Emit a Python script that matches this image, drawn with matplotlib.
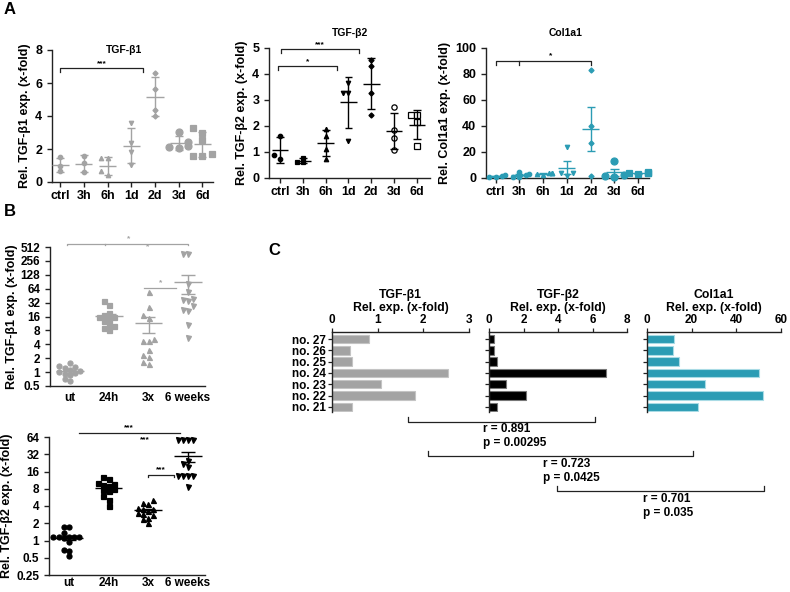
import numpy as np
import matplotlib.pyplot as plt
from matplotlib.lines import Line2D
from matplotlib.ticker import FixedLocator, FixedFormatter, NullLocator

plt.rcParams['font.family'] = ['Liberation Sans', 'DejaVu Sans']
plt.rcParams['font.weight'] = 'bold'
plt.rcParams['axes.labelweight'] = 'bold'
plt.rcParams['axes.linewidth'] = 1.0

GRAY = '#a3a3a3'
TEAL = '#2b9cb4'
AXC = '#222222'

# ---- panel A : time course ----
a_groups = ['ctrl', '3h', '6h', '1d', '2d', '3d', '6d']
tgfb1_a = [[1.5, 0.98, 0.66], [1.6, 1.13, 0.62], [1.45, 1.45, 0.65, 0.4],
           [3.6, 2.36, 1.8, 1.05], [6.6, 5.64, 4.39, 4.02],
           [3.05, 2.4, 2.2, 2.1, 2.05], [3.25, 3.0, 2.55, 1.7, 1.6, 1.55]]
tgfb2_a = [[1.63, 0.87, 0.73], [0.78, 0.6, 0.62], [1.88, 1.6, 1.12, 0.75],
           [3.65, 3.27, 3.27, 1.44], [4.53, 4.29, 3.27, 2.44],
           [2.73, 1.83, 1.54, 1.09], [2.41, 2.41, 2.15, 1.25]]
col1a1_a = [[1.5, 1.0, 0.6, 2.0], [5.0, 3.0, 2.0, 1.0, 0.5], [3.5, 2.5, 3.0, 4.0, 3.8],
            [23.6, 3.8, 3.5, 1.2], [83.3, 39.7, 26.9, 1.3], [12.8, 2.6, 1.5, 0.5],
            [5.0, 4.0, 3.5, 3.5, 3.0]]
a_markers = ['o', 'o', '^', 'v', 'D', 'o', 's']
a_sizes = [3.2, 3.2, 3.2, 3.2, 2.6, 5.0, 5.0]
a2_markers = ['o', 's', '^', 'v', 'D', 'o', 's']
a2_fill = [True, True, True, True, True, False, False]

# ---- panel B : treatments ----
b_groups = ['ut', '24h', '3x', '6 weeks']
tgfb1_b = [[1.6, 1.35, 1.3, 1.2, 1.1, 1.05, 1.0, 0.95, 0.9, 0.85, 0.7, 0.65],
           [34, 28, 19, 17.5, 16, 15.5, 14, 13, 11, 10, 9, 8],
           [54, 25.6, 17, 15, 5.1, 4.8, 4.8, 3.0, 2.3, 2.1, 1.66, 1.47],
           [367, 355, 82, 54, 37.5, 37, 34, 26.5, 21.7, 21, 10.3, 5.6]]
tgfb2_b = [[1.7, 1.7, 1.35, 1.15, 1.15, 1.15, 1.15, 1.15, 1.1, 0.95, 0.68, 0.66, 0.53],
           [13, 11.8, 10, 9.8, 9.2, 8.8, 8, 7.5, 7.2, 6, 5.1, 4],
           [5.0, 4.6, 4.3, 3.7, 3.6, 3.5, 3.3, 3.0, 2.9, 2.8, 2.5, 2.4, 2.0],
           [56, 56, 56, 56, 24, 22, 19, 13.5, 13.5, 13.5, 13.5, 8.7]]
b_markers = ['o', 's', '^', 'v']

# ---- panel C : individual samples ----
samples = ['no. 21', 'no. 22', 'no. 23', 'no. 24', 'no. 25', 'no. 26', 'no. 27']
tgfb1_c = [0.44, 1.82, 1.07, 2.53, 0.44, 0.385, 0.80]
tgfb2_c = [0.47, 2.13, 1.0, 6.78, 0.45, 0.31, 0.27]
col1a1_c = [22.7, 52, 26, 50.3, 14.5, 11.6, 12]
corr_r = ['0.891', '0.723', '0.701']
corr_p = ['0.00295', '0.0425', '0.035']

fig = plt.figure(figsize=(7.9, 5.92), dpi=100)
W, H = 790.0, 592.0


def fx(x):
    return x / W


def fy(y):
    return 1 - y / H


def axpx(l, t, r, b):
    return fig.add_axes([l / W, 1 - b / H, (r - l) / W, (b - t) / H])


def style(ax):
    for s in ['top', 'right']:
        ax.spines[s].set_visible(False)
    for s in ['left', 'bottom']:
        ax.spines[s].set_color(AXC)
    ax.tick_params(colors=AXC, length=3.5, width=1.0, labelcolor='black')


def swarm(vals, scale, log=False, cat_px=24, diam=4.5, step=0.13):
    # simple beeswarm: returns x offsets (category units)
    ys = np.log2(vals) * scale if log else np.asarray(vals) * scale
    order = np.argsort(ys)
    placed = []
    offs = np.zeros(len(vals))
    for i in order:
        for k in [0, -1, 1, -2, 2, -3, 3]:
            ox = k * step
            ok = True
            for (px, py) in placed:
                if abs((ox - px) * cat_px) < diam and abs(ys[i] - py) < diam:
                    ok = False
                    break
            if ok:
                break
        offs[i] = ox
        placed.append((ox, ys[i]))
    return offs


def dot_column(ax, groups, markers, sizes, color, fill, err, scale, log=False,
               cat_px=24, mean_w=0.36, cap_w=0.17, lw=1.0):
    for i, vals in enumerate(groups):
        v = np.asarray(vals, float)
        offs = swarm(v, scale, log, cat_px, diam=sizes[i] * 1.3)
        fc = color if fill[i] else 'white'
        ax.plot(i + offs, v, ls='none', marker=markers[i], ms=sizes[i],
                mfc=fc, mec=color, mew=0.9, clip_on=False, zorder=3)
        m = v.mean()
        e = v.std(ddof=1)
        if err == 'sem':
            e = e / np.sqrt(len(v))
        ax.hlines(m, i - mean_w, i + mean_w, color=color, lw=lw, zorder=4)
        ax.vlines(i, m - e, m + e, color=color, lw=lw, zorder=4)
        ax.hlines([m - e, m + e], i - cap_w, i + cap_w, color=color, lw=lw, zorder=4)


def bracket(ax, x0, x1, y, drop, color, mids=(), lw=0.9):
    ax.plot([x0, x0, x1, x1], [y - drop, y, y, y - drop], color=color, lw=lw, clip_on=False)
    for xm in mids:
        ax.plot([xm, xm], [y, y - drop], color=color, lw=lw, clip_on=False)


# ===================== panel A =====================
A1 = axpx(52, 50, 213, 182)
A2 = axpx(269, 48, 430, 178)
A3 = axpx(486, 48, 649, 178)

dot_column(A1, tgfb1_a, a_markers, a_sizes, GRAY, [True] * 7, 'sd', 16.25, cat_px=24)
A1.set_ylim(0, 8)
A1.set_yticks([0, 2, 4, 6, 8])
A1.set_xlim(-0.35, 6.45)
bracket(A1, 0, 3.5, 6.9, 0.25, AXC)
A1.text(1.75, 6.95, '***', ha='center', va='bottom', fontsize=6)
fig.text(fx(124), fy(50), 'TGF-β1', ha='center', va='center', fontsize=7.5)
A1.set_ylabel('Rel. TGF-β1 exp. (x-fold)', fontsize=9, labelpad=3)

dot_column(A2, tgfb2_a, a2_markers, [3.2, 3.2, 3.2, 3.2, 2.6, 3.8, 4.2], 'black',
           a2_fill, 'sd', 26, cat_px=22.8)
A2.set_ylim(0, 5)
A2.set_yticks([0, 1, 2, 3, 4, 5])
A2.set_xlim(-0.48, 6.57)
bracket(A2, 0.05, 3.47, 4.97, 0.15, AXC)
A2.text(1.76, 5.0, '***', ha='center', va='bottom', fontsize=6)
bracket(A2, -0.1, 2.48, 4.3, 0.15, AXC)
A2.text(1.19, 4.33, '*', ha='center', va='bottom', fontsize=6)
fig.text(fx(350), fy(33), 'TGF-β2', ha='center', va='center', fontsize=7.5)
A2.set_ylabel('Rel. TGF-β2 exp. (x-fold)', fontsize=9, labelpad=3)

dot_column(A3, col1a1_a, a_markers, a_sizes, TEAL, [True] * 7, 'sem', 1.3, cat_px=23.7)
A3.set_ylim(0, 100)
A3.set_yticks([0, 20, 40, 60, 80, 100])
A3.set_xlim(-0.4, 6.45)
bracket(A3, 0, 4, 90, 3, AXC, mids=[1])
A3.text(2.3, 91, '*', ha='center', va='bottom', fontsize=6)
fig.text(fx(566), fy(33), 'Col1a1', ha='center', va='center', fontsize=7.5)
A3.set_ylabel('Rel. Col1a1 exp. (x-fold)', fontsize=9, labelpad=3)

for ax in (A1, A2, A3):
    style(ax)
    ax.set_xticks(range(len(a_groups)))
    ax.set_xticklabels(a_groups)
    ax.tick_params(labelsize=9)
    ax.tick_params(axis='x', pad=2)

# ===================== panel B =====================
B1 = axpx(50, 247, 205, 386)
B2 = axpx(49, 437, 205, 575)

for ax, data, col, lo, hi, ppo in [(B1, tgfb1_b, GRAY, 0.5, 512, 13.9),
                                   (B2, tgfb2_b, 'black', 0.25, 64, 17.3)]:
    ax.set_yscale('log', base=2)
    dot_column(ax, data, b_markers, [3.6] * 4, col, [True] * 4, 'sem', ppo, log=True,
               cat_px=39.3, mean_w=0.35, cap_w=0.17)
    ax.set_ylim(lo, hi)
    ticks = [lo * 2 ** k for k in range(int(round(np.log2(hi / lo))) + 1)]
    ax.yaxis.set_major_locator(FixedLocator(ticks))
    ax.yaxis.set_major_formatter(FixedFormatter(['%g' % t for t in ticks]))
    ax.yaxis.set_minor_locator(NullLocator())
    ax.set_xlim(-0.5, 3.43)
    ax.set_xticks(range(4))
    ax.set_xticklabels(b_groups)
    style(ax)
    ax.tick_params(labelsize=8.5)
    ax.tick_params(axis='x', length=0, pad=4)

B2.tick_params(axis='x', pad=1.5)
B1.set_ylabel('Rel. TGF-β1 exp. (x-fold)', fontsize=9, labelpad=2)
B2.set_ylabel('Rel. TGF-β2 exp. (x-fold)', fontsize=9, labelpad=2)

bracket(B1, -0.08, 3.0, 580, 1.12, GRAY, mids=[0.9])
B1.text(1.5, 640, '*', ha='center', va='bottom', fontsize=6, color=GRAY)
B1.text(1.97, 430, '*', ha='center', va='bottom', fontsize=6, color=GRAY)
bracket(B1, 1.88, 2.7, 66, 1.25, GRAY)
B1.text(2.3, 74, '*', ha='center', va='bottom', fontsize=6, color=GRAY)

bracket(B2, 0.25, 2.8, 76, 1.15, AXC, mids=[1.05])
B2.text(1.5, 80, '***', ha='center', va='bottom', fontsize=6)
B2.text(1.92, 50, '***', ha='center', va='bottom', fontsize=6)
bracket(B2, 2.0, 2.65, 14, 1.2, AXC)
B2.text(2.32, 14.8, '***', ha='center', va='bottom', fontsize=6)

# ===================== panel C =====================
C1 = axpx(332, 332, 469, 412)
C2 = axpx(489, 332, 627, 412)
C3 = axpx(647, 332, 781, 412)
ypos = np.arange(len(samples))
for ax, vals, col, edge, lim, ticks, name in [
        (C1, tgfb1_c, GRAY, '#c4c4c4', 3, [0, 1, 2, 3], 'TGF-β1'),
        (C2, tgfb2_c, 'black', '#777777', 8, [0, 2, 4, 6, 8], 'TGF-β2'),
        (C3, col1a1_c, TEAL, '#a9dbe5', 60, [0, 20, 40, 60], 'Col1a1')]:
    ax.barh(ypos, vals, height=0.74, color=col, edgecolor=edge, linewidth=0.8)
    ax.set_xlim(0, lim)
    ax.set_ylim(-0.45, 6.62)
    ax.set_xticks(ticks)
    ax.xaxis.tick_top()
    ax.set_yticks(ypos)
    for s in ['bottom', 'right']:
        ax.spines[s].set_visible(False)
    ax.spines['top'].set_color(AXC)
    ax.spines['left'].set_color(AXC)
    ax.tick_params(length=3, width=0.9, labelsize=8.5, pad=1.5, colors=AXC, labelcolor='black')
    ax.xaxis.set_label_position('top')
    ax.set_xlabel(name + '\nRel. exp. (x-fold)', fontsize=8.8, labelpad=2, linespacing=1.1)
C1.set_yticklabels(samples)
C2.set_yticklabels([])
C3.set_yticklabels([])

# correlation brackets (figure level annotations)
br = [(408, 595, 422, 483, 429), (428, 693, 456, 543, 464), (557, 764, 491, 643, 499)]
for (x0, x1, yb, tx, ty), r, p in zip(br, corr_r, corr_p):
    fig.add_artist(Line2D([fx(x0), fx(x0), fx(x1), fx(x1)],
                          [fy(yb - 5), fy(yb), fy(yb), fy(yb - 5)], color=AXC, lw=0.9))
    fig.text(fx(tx), fy(ty), 'r = ' + r, ha='left', va='center', fontsize=8.5)
    fig.text(fx(tx), fy(ty + 14), 'p = ' + p, ha='left', va='center', fontsize=8.5)

# panel letters
fig.text(fx(4), fy(9), 'A', fontsize=12, fontweight='bold', va='center')
fig.text(fx(4), fy(212), 'B', fontsize=12, fontweight='bold', va='center')
fig.text(fx(268), fy(250), 'C', fontsize=12, fontweight='bold', va='center')

fig.savefig('out.png', dpi=100)
